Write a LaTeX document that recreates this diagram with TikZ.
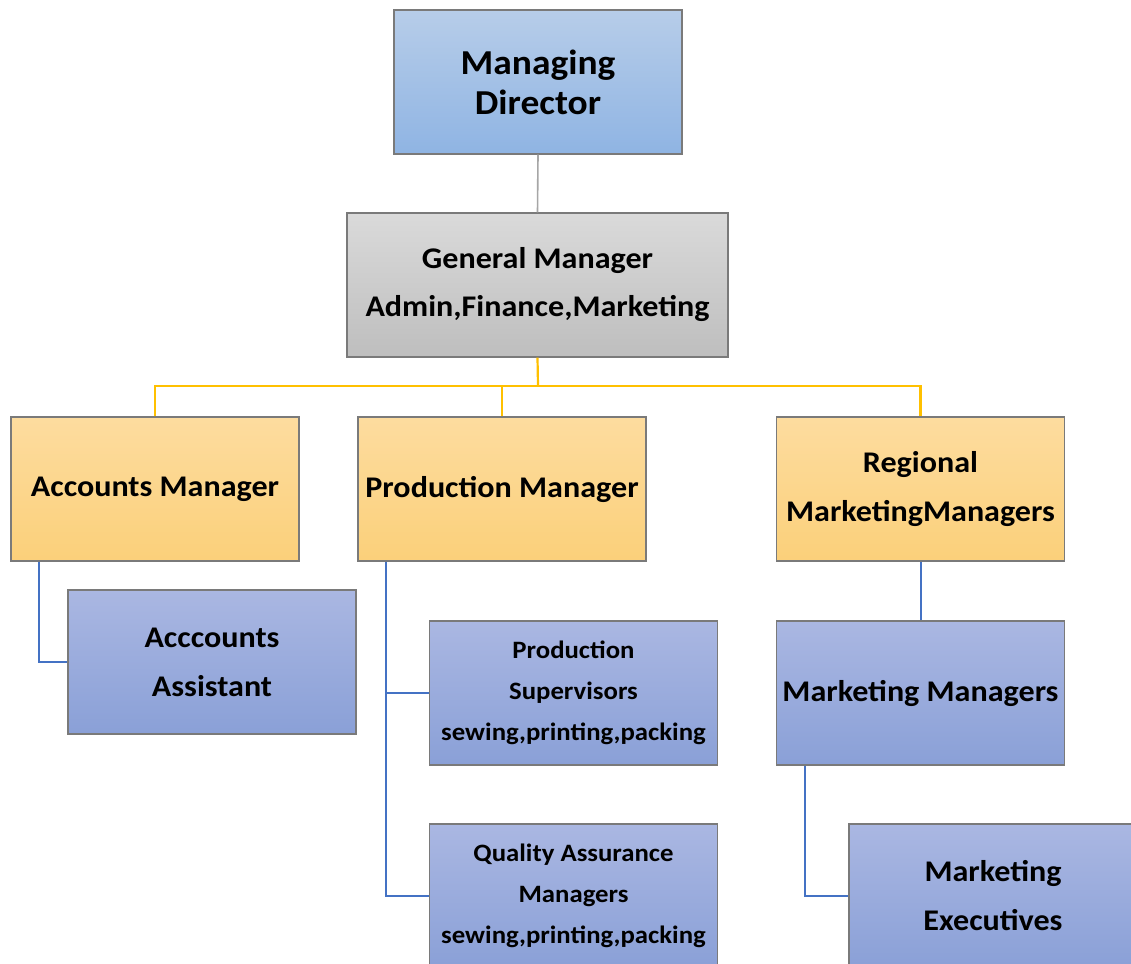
\documentclass[tikz,border=0pt]{standalone}
\usepackage{fontspec}
\setmainfont{Carlito}[FakeStretch=1.07]
\definecolor{mdtop}{HTML}{B7CDE9}
\definecolor{mdbot}{HTML}{8FB4E3}
\definecolor{gmtop}{HTML}{DADADA}
\definecolor{gmbot}{HTML}{BEBEBE}
\definecolor{ortop}{HTML}{FDDC9F}
\definecolor{orbot}{HTML}{FBD07A}
\definecolor{bltop}{HTML}{AAB7E2}
\definecolor{blbot}{HTML}{8AA0D7}
\definecolor{edge}{HTML}{7A7A7A}
\definecolor{orline}{HTML}{FFC000}
\definecolor{blline}{HTML}{4472C4}
\definecolor{grline}{HTML}{A6A6A6}
\tikzset{
  orgbox/.style={draw=edge, line width=1.3pt, inner sep=0pt, minimum width=288pt, minimum height=144pt, align=center, font=\bfseries},
  mdbox/.style={orgbox, top color=mdtop, bottom color=mdbot},
  gmbox/.style={orgbox, top color=gmtop, bottom color=gmbot, minimum width=381pt},
  orbox/.style={orgbox, top color=ortop, bottom color=orbot},
  blbox/.style={orgbox, top color=bltop, bottom color=blbot},
  orlink/.style={draw=orline, line width=2.2pt},
  bllink/.style={draw=blline, line width=2pt},
  grlink/.style={draw=grline, line width=1.6pt},
  bigtxt/.style={font=\bfseries\fontsize{35}{40}\selectfont},
  midtxt/.style={font=\bfseries\fontsize{30}{49}\selectfont},
  gmtxt/.style={font=\bfseries\fontsize{30}{48}\selectfont},
  smalltxt/.style={font=\bfseries\fontsize{25}{41}\selectfont},
}
\begin{document}
\begin{tikzpicture}[x=1pt,y=-1pt]
\useasboundingbox (0,0) rectangle (1131,963);
\clip (0,0) rectangle (1131,963);
\fill[white] (0,0) rectangle (1131,963);
\coordinate (bus) at (538,386);
\node[mdbox, bigtxt] (md) at (538,82) {Managing\\Director};
\node[gmbox, gmtxt] (gm) at (537.5,285) {General Manager\\Admin,Finance,Marketing};
\node[orbox, midtxt] (am) at (155,489) {Accounts Manager};
\node[orbox, midtxt] (pm) at (502,489) {Production Manager};
\node[orbox, midtxt] (rm) at (920.5,489) {Regional\\MarketingManagers};
\node[blbox, midtxt] (aa) at (212,662) {Acccounts\\Assistant};
\node[blbox, smalltxt] (ps) at (573.5,693) {Production\\Supervisors\\sewing,printing,packing};
\node[blbox, smalltxt] (qa) at (573.5,896) {Quality Assurance\\Managers\\sewing,printing,packing};
\node[blbox, midtxt] (mm) at (920.5,693) {Marketing Managers};
\node[blbox, midtxt] (me) at (993,896) {Marketing\\Executives};
% links
\draw[grlink] (md.south) -- (gm.north);
\draw[orlink] (gm.south) -- (bus);
\draw[orlink] (am.north) |- (bus) -| (rm.north);
\draw[orlink] (pm.north) -- (pm.north |- bus);
\draw[bllink] ([xshift=29pt]am.south west) |- (aa.west);
\draw[bllink] ([xshift=29pt]pm.south west) |- (ps.west);
\draw[bllink] ([xshift=29pt]pm.south west) |- (qa.west);
\draw[bllink] (rm.south) -- (mm.north);
\draw[bllink] ([xshift=29pt]mm.south west) |- (me.west);
\end{tikzpicture}
\end{document}
